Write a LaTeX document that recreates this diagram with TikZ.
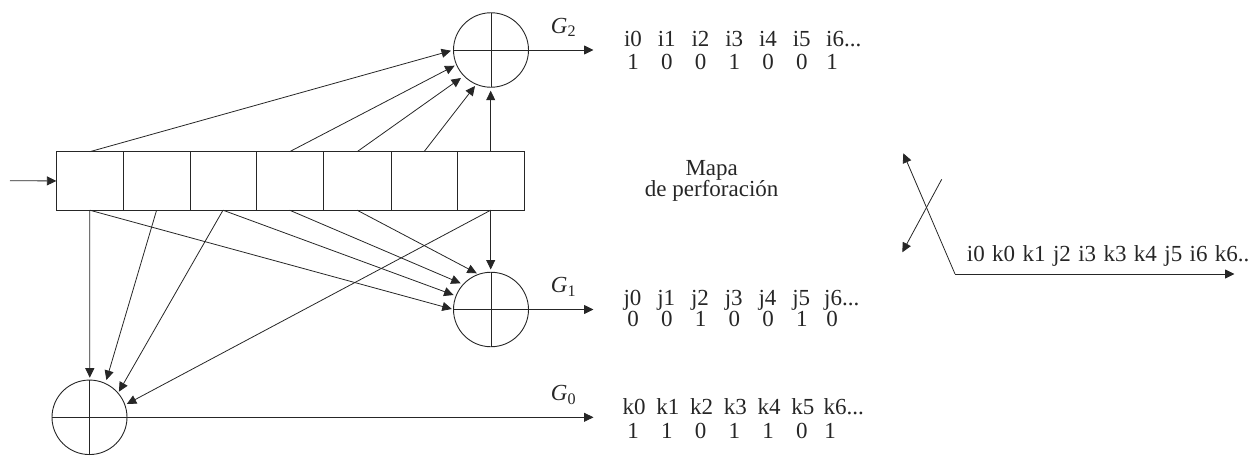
\documentclass[tikz,border=0pt]{standalone}
\usepackage{fontspec}
\setmainfont{Liberation Serif}
\usetikzlibrary{arrows.meta,shapes.geometric}
\tikzset{
  x=1pt,y=-1pt,
  wire/.style={draw=black!85,line width=0.8pt},
  arr/.style={wire,-{Triangle[length=9.5pt,width=9pt]}},
  adder/.style={draw=black!85,line width=0.9pt,ellipse,minimum width=75pt,minimum height=74.5pt,inner sep=0pt,outer sep=0pt},
  cell/.style={draw=black!85,line width=1pt,minimum height=58.5pt,inner sep=0pt,outer sep=0pt,anchor=north west},
  txt/.style={font=\fontsize{23}{23}\selectfont,inner sep=0pt,anchor=base,text=black!85},
  gl/.style={font=\fontsize{23}{23}\selectfont\itshape,inner sep=0pt,anchor=base west,text=black!85},
}
\begin{document}
\begin{tikzpicture}
\useasboundingbox (0,0) rectangle (1252,455);
% register cells
\node[cell,minimum width=66.8pt] (c1) at (56.4,151.7) {};
\node[cell,minimum width=66.8pt] (c2) at (123.2,151.7) {};
\node[cell,minimum width=66pt] (c3) at (190,151.7) {};
\node[cell,minimum width=67.2pt] (c4) at (256,151.7) {};
\node[cell,minimum width=67.8pt] (c5) at (323.2,151.7) {};
\node[cell,minimum width=66.1pt] (c6) at (391,151.7) {};
\node[cell,minimum width=67.2pt] (c7) at (457.1,151.7) {};
% adders
\node[adder] (a2) at (491,50) {};
\node[adder] (a1) at (491,309.5) {};
\node[adder] (a0) at (89.5,417.3) {};
\foreach \a in {a0,a1,a2}{
  \draw[wire] (\a.north) -- (\a.south);
  \draw[wire] (\a.west) -- (\a.east);
}
% named free ends
\coordinate (in) at (10,180.7);
\coordinate (o2) at (593.5,50);
\coordinate (o1) at (593.5,309.5);
\coordinate (o0) at (593.5,417.3);
\coordinate (t21) at (451,50.7);
\coordinate (t22) at (454.6,65.7);
\coordinate (t23) at (461,78);
\coordinate (t24) at (475,86);
\coordinate (t25) at (490.7,90.7);
\coordinate (t11) at (451.8,309);
\coordinate (t12) at (453.6,295);
\coordinate (t13) at (460.7,283.3);
\coordinate (t14) at (476.8,273.3);
\coordinate (t15) at (490.7,269.5);
\coordinate (t01) at (89.8,377.7);
\coordinate (t02) at (106.4,380);
\coordinate (t03) at (118.9,391.7);
\coordinate (t04) at (126.8,404);
% connectors
\draw[arr] (in) -- (c1.west);
\draw[arr] (c1.north) -- (t21);
\draw[arr] (c4.north) -- (t22);
\draw[arr] (c5.north) -- (t23);
\draw[arr] (c6.north) -- (t24);
\draw[arr] (c7.north) -- (t25);
\draw[arr] (c1.south) -- (t11);
\draw[arr] (c3.south) -- (t12);
\draw[arr] (c4.south) -- (t13);
\draw[arr] (c5.south) -- (t14);
\draw[arr] (c7.south) -- (t15);
\draw[arr] (c1.south) -- (t01);
\draw[arr] (c2.south) -- (t02);
\draw[arr] (c3.south) -- (t03);
\draw[arr] (c7.south) -- (t04);
\draw[arr] (a2.east) -- (o2);
\draw[arr] (a1.east) -- (o1);
\draw[arr] (a0.east) -- (o0);
% generator labels
\node[gl] (g2) at (550.7,33) {G\textsubscript{\upshape 2}};
\node[gl] (g1) at (550.7,292.7) {G\textsubscript{\upshape 1}};
\node[gl] (g0) at (550.7,400.7) {G\textsubscript{\upshape 0}};
% sequences
\foreach \t [count=\n] in {i0,i1,i2,i3,i4,i5}{
  \pgfmathsetmacro\xx{633+33.75*(\n-1)}
  \node[txt] (ti\n) at (\xx,46.7) {\t};
}
\node[txt,anchor=base west] (ti7) at (826,46.7) {i6...};
\foreach \t [count=\n] in {1,0,0,1,0,0}{
  \pgfmathsetmacro\xx{633+33.75*(\n-1)}
  \node[txt] (di\n) at (\xx,69.3) {\t};
}
\node[txt] (di7) at (832,69.3) {1};
\foreach \t [count=\n] in {j0,j1,j2,j3,j4,j5}{
  \pgfmathsetmacro\xx{632.5+33.75*(\n-1)}
  \node[txt] (tj\n) at (\xx,305) {\t};
}
\node[txt,anchor=base west] (tj7) at (824,305) {j6...};
\foreach \t [count=\n] in {0,0,1,0,0,1}{
  \pgfmathsetmacro\xx{633+33.75*(\n-1)}
  \node[txt] (dj\n) at (\xx,326.7) {\t};
}
\node[txt] (dj7) at (832,326.7) {0};
\foreach \t [count=\n] in {k0,k1,k2,k3,k4,k5}{
  \pgfmathsetmacro\xx{634+33.75*(\n-1)}
  \node[txt] (tk\n) at (\xx,414) {\t};
}
\node[txt,anchor=base west] (tk7) at (823.5,414) {k6...};
\foreach \t [count=\n] in {1,1,0,1,1,0}{
  \pgfmathsetmacro\xx{633+33.75*(\n-1)}
  \node[txt] (dk\n) at (\xx,438) {\t};
}
\node[txt] (dk7) at (830,438) {1};
% caption
\node[txt] (m1) at (711.7,175) {Mapa};
\node[txt] (m2) at (711.7,196.7) {de perforación};
% crossing
\coordinate (x1) at (903.3,153.3);
\coordinate (x2) at (955,274);
\coordinate (x3) at (1234.5,274);
\coordinate (x4) at (941.7,179.3);
\coordinate (x5) at (902.3,252.3);
\draw[arr] (x2) -- (x1);
\draw[arr] (x2) -- (x3);
\draw[arr] (x4) -- (x5);
\node[txt,anchor=base west] (seq) at (966.7,261.7) {\spaceskip=7.4pt i0 k0 k1 j2 i3 k3 k4 j5 i6 k6..};
\end{tikzpicture}
\end{document}
